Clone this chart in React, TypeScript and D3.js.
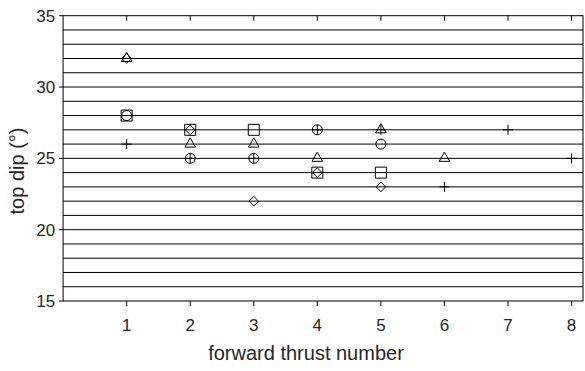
import React from "react";
import * as d3 from "d3";

const W = 585;
const H = 371;

const xTicks = [1, 2, 3, 4, 5, 6, 7, 8];
const yTicks = [15, 20, 25, 30, 35];
const gridValues = [16, 17, 18, 19, 20, 21, 22, 23, 24, 25, 26, 27, 28, 29, 30, 31, 32, 33, 34];

const plusX = [1, 2, 3, 4, 5, 6, 7, 8];
const plusY = [26, 25, 25, 27, 27, 23, 27, 25];
const circleX = [1, 2, 3, 4, 5];
const circleY = [28, 25, 25, 27, 26];
const squareX = [1, 2, 3, 4, 5];
const squareY = [28, 27, 27, 24, 24];
const triangleX = [1, 2, 3, 4, 5, 6];
const triangleY = [32, 26, 26, 25, 27, 25];
const diamondX = [1, 2, 3, 4, 5];
const diamondY = [32, 27, 22, 24, 23];

const left = 63.1;
const right = 583;
const top = 15.7;
const bottom = 301;

const x = d3.scaleLinear().domain([0, 8.18]).range([left, right]);
const y = d3.scaleLinear().domain([15, 35]).range([bottom, top]);

const shapes: Record<string, string> = {
  plus: "M-5,0H5M0,-5V5",
  circle: "M5,0A5,5 0 1,1 -5,0A5,5 0 1,1 5,0Z",
  square: "M-5.5,-5.5H5.5V5.5H-5.5Z",
  triangle: "M0,-6.2L5.3,3L-5.3,3Z",
  diamond: "M0,-4.8L4.8,0L0,4.8L-4.8,0Z",
};

const series = [
  { shape: "plus", xs: plusX, ys: plusY },
  { shape: "circle", xs: circleX, ys: circleY },
  { shape: "square", xs: squareX, ys: squareY },
  { shape: "triangle", xs: triangleX, ys: triangleY },
  { shape: "diamond", xs: diamondX, ys: diamondY },
];

const textColor = "#262626";
const font = "'Liberation Sans', Arial, sans-serif";

export default function App() {
  return (
    <svg
      width={W}
      height={H}
      style={{ position: "absolute", left: 0, top: 0, background: "#fff" }}
      fontFamily={font}
    >
      <rect x={0} y={0} width={W} height={H} fill="#fff" />
      {gridValues.map((v) => (
        <line key={"g" + v} x1={left} x2={right} y1={y(v)} y2={y(v)} stroke="#000" strokeWidth={1} />
      ))}
      <rect x={left} y={top} width={right - left} height={bottom - top} fill="none" stroke="#000" strokeWidth={1} />
      {xTicks.map((t) => (
        <g key={"xt" + t}>
          <line x1={x(t)} x2={x(t)} y1={bottom} y2={bottom + 5} stroke="#000" />
          <line x1={x(t)} x2={x(t)} y1={top} y2={top + 5} stroke="#000" />
          <text x={x(t)} y={bottom + 30} textAnchor="middle" fontSize={17} fill={textColor}>
            {t}
          </text>
        </g>
      ))}
      {yTicks.map((t) => (
        <g key={"yt" + t}>
          <line x1={left - 4} x2={left} y1={y(t)} y2={y(t)} stroke="#000" />
          <text x={left - 8} y={y(t) + 6} textAnchor="end" fontSize={17} fill={textColor}>
            {t}
          </text>
        </g>
      ))}
      <text x={306} y={360} textAnchor="middle" fontSize={20} fill={textColor}>
        forward thrust number
      </text>
      <text
        transform="translate(24,171) rotate(-90)"
        textAnchor="middle"
        fontSize={20}
        fill={textColor}
      >
        top dip (°)
      </text>
      {series.map((s) =>
        s.xs.map((xv, i) => (
          <path
            key={s.shape + i}
            d={shapes[s.shape]}
            transform={`translate(${x(xv)},${y(s.ys[i])})`}
            fill="none"
            stroke="#000"
            strokeWidth={1}
          />
        ))
      )}
    </svg>
  );
}
